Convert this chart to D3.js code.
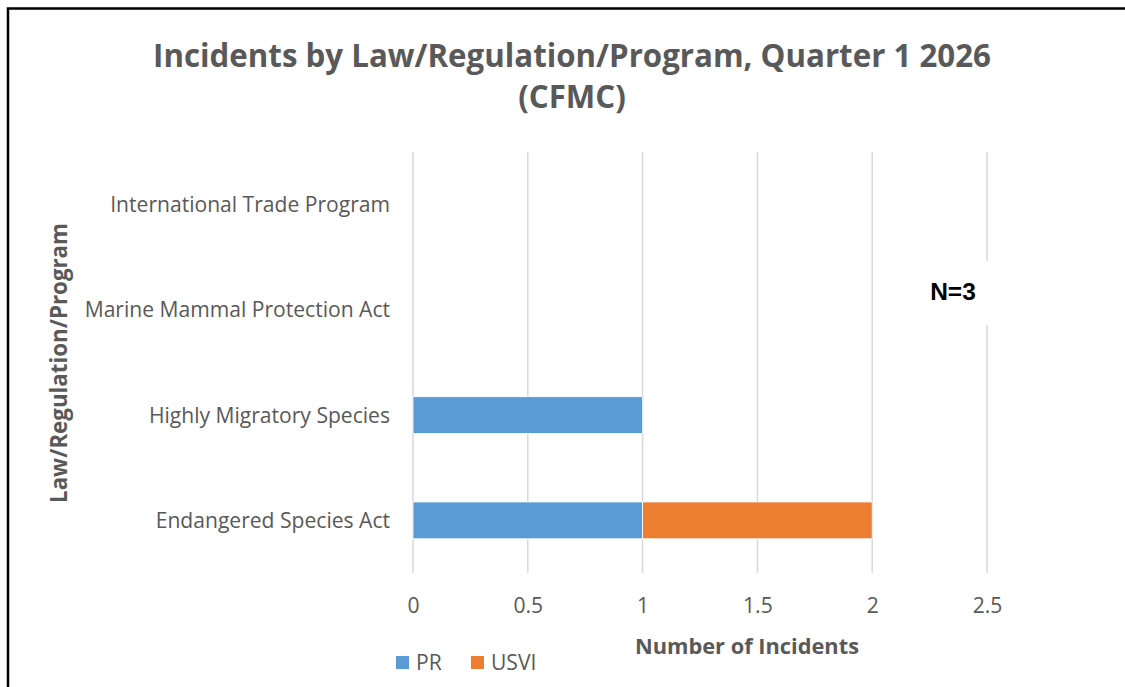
<!DOCTYPE html>
<html>
<head>
<meta charset="utf-8">
<script src="https://cdn.jsdelivr.net/npm/d3@7"></script>
<style>
  body { margin: 0; background: #fff; }
  svg text { font-family: "Open Sans", "Noto Sans", sans-serif; }
</style>
</head>
<body>
<svg id="chart" width="1125" height="687"></svg>
<script>
// chart data
const categories = ["International Trade Program", "Marine Mammal Protection Act", "Highly Migratory Species", "Endangered Species Act"];
const seriesNames = ["PR", "USVI"];
const prValues = [0, 0, 1, 1];
const usviValues = [0, 0, 0, 1];
const xTicks = [0, 0.5, 1, 1.5, 2, 2.5];
const colors = ["#5B9BD5", "#ED7D31"];

const svg = d3.select("#chart");
const grey = "#595959";

// shrink/grow font so the text spans the given width
let fit = (sel, target) => {
  let w = sel.node().getComputedTextLength();
  let fs = parseFloat(sel.attr("font-size"));
  sel.attr("font-size", (fs * target / w).toFixed(2));
  return sel;
};

// frame (only top and left edges show)
svg.append("path")
  .attr("d", "M8,687 V8.5 H1125")
  .attr("fill", "none")
  .attr("stroke", "#000")
  .attr("stroke-width", 2.5);

const x = d3.scaleLinear().domain([0, 2.5]).range([413, 987]);
const y = d3.scaleBand().domain(categories).range([152, 573]).paddingInner(0.65).paddingOuter(0.325);

// gridlines
svg.append("g").selectAll("line")
  .data(xTicks)
  .enter()
  .append("line")
  .attr("x1", d => x(d))
  .attr("x2", d => x(d))
  .attr("y1", 152)
  .attr("y2", 573)
  .attr("stroke", "#d9d9d9")
  .attr("stroke-width", 1.5);

// stacked bars
let rows = categories.map((c, i) => ({ cat: c, PR: prValues[i], USVI: usviValues[i] }));
let stacked = d3.stack().keys(seriesNames)(rows);

svg.append("g").selectAll("g")
  .data(stacked)
  .enter()
  .append("g")
  .attr("fill", (d, i) => colors[i])
  .selectAll("rect")
  .data(d => d.filter(v => v[1] - v[0] > 0))
  .enter()
  .append("rect")
  .attr("x", d => x(d[0]))
  .attr("width", d => x(d[1]) - x(d[0]))
  .attr("y", d => y(d.data.cat))
  .attr("height", y.bandwidth())
  .attr("stroke", "#fff")
  .attr("stroke-width", 0.8);

// x tick labels
let xAxis = svg.append("g")
  .attr("transform", "translate(0,613)")
  .call(d3.axisBottom(x).tickValues(xTicks).tickSize(0).tickPadding(0).tickFormat(d3.format("")));
xAxis.select(".domain").remove();
xAxis.selectAll("text")
  .attr("dy", 0)
  .attr("y", 0)
  .attr("fill", grey)
  .attr("font-size", 20)
  .style("font-family", "'Open Sans', sans-serif");

// category labels
let yAxis = svg.append("g")
  .attr("transform", "translate(390,0)")
  .call(d3.axisLeft(y).tickSize(0).tickPadding(0));
yAxis.select(".domain").remove();
yAxis.selectAll("text")
  .attr("fill", grey)
  .attr("font-size", 20)
  .attr("dy", "0.35em")
  .style("font-family", "'Open Sans', sans-serif");
fit(yAxis.select("text"), 280);
let catFs = yAxis.select("text").attr("font-size");
yAxis.selectAll("text").attr("font-size", catFs);
xAxis.selectAll("text").attr("font-size", catFs);

// title
let t1 = svg.append("text")
  .attr("x", 572).attr("y", 67)
  .attr("text-anchor", "middle")
  .attr("font-weight", "bold")
  .attr("font-size", 30)
  .attr("fill", grey)
  .text("Incidents by Law/Regulation/Program, Quarter 1 2026");
fit(t1, 838);
svg.append("text")
  .attr("x", 572).attr("y", 108)
  .attr("text-anchor", "middle")
  .attr("font-weight", "bold")
  .attr("font-size", t1.attr("font-size"))
  .attr("fill", grey)
  .text("(CFMC)");

// axis titles
let xt = svg.append("text")
  .attr("x", 747).attr("y", 654)
  .attr("text-anchor", "middle")
  .attr("font-weight", "bold")
  .attr("font-size", 20)
  .attr("fill", grey)
  .text("Number of Incidents");
fit(xt, 224);

let yt = svg.append("text")
  .attr("transform", "translate(67,363) rotate(-90)")
  .attr("text-anchor", "middle")
  .attr("font-weight", "bold")
  .attr("font-size", 20)
  .attr("fill", grey)
  .text("Law/Regulation/Program");
fit(yt, 280);

// N label on white box
svg.append("rect")
  .attr("x", 890).attr("y", 261)
  .attr("width", 125).attr("height", 64)
  .attr("fill", "#fff");
svg.append("text")
  .attr("x", 953).attr("y", 300)
  .attr("text-anchor", "middle")
  .attr("font-weight", "bold")
  .attr("font-size", 24.5)
  .style("font-family", "'Liberation Sans', Arial, sans-serif")
  .attr("fill", "#000")
  .text("N=3");

// legend
const legendX = [396, 471];
let legend = svg.append("g").selectAll("g")
  .data(seriesNames)
  .enter()
  .append("g")
  .attr("transform", (d, i) => "translate(" + legendX[i] + ",656)");
legend.append("rect")
  .attr("width", 13).attr("height", 13)
  .attr("fill", (d, i) => colors[i]);
legend.append("text")
  .attr("x", 20).attr("y", 14)
  .attr("font-size", catFs)
  .attr("fill", grey)
  .text(d => d);
</script>
</body>
</html>
